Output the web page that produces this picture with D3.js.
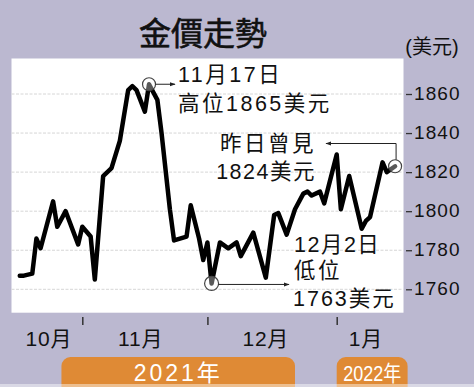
<!DOCTYPE html>
<html><head><meta charset="utf-8">
<script src="https://cdn.jsdelivr.net/npm/d3@7"></script>
<style>body{margin:0;background:#bbb8d0;} svg{display:block}</style>
</head><body>
<svg id="c" width="474" height="387"></svg>
<script>
// ---- data ----
const dates = ["2021-10-17","2021-10-18","2021-10-20","2021-10-21","2021-10-22","2021-10-25","2021-10-26","2021-10-28","2021-10-31",
"2021-11-01","2021-11-03","2021-11-04","2021-11-06","2021-11-08","2021-11-10","2021-11-12","2021-11-13","2021-11-14","2021-11-16",
"2021-11-17","2021-11-19","2021-11-20","2021-11-22","2021-11-23","2021-11-26","2021-11-27","2021-11-29","2021-11-30",
"2021-12-01","2021-12-02","2021-12-04","2021-12-06","2021-12-08","2021-12-09","2021-12-12","2021-12-15","2021-12-17","2021-12-18",
"2021-12-20","2021-12-22","2021-12-24","2021-12-25","2021-12-26","2021-12-28","2021-12-29",
"2022-01-01","2022-01-02","2022-01-04","2022-01-07","2022-01-08","2022-01-09","2022-01-12","2022-01-13","2022-01-15"];
const prices = [1767,1767,1768,1786,1781,1805,1792,1800,1783,
1792,1787,1765,1818,1822,1836,1862,1864,1862,1851,
1865,1857,1840,1801,1785,1787,1803,1786,1775,
1784,1763,1784,1781,1784,1777,1789,1766,1798,1799,
1788,1801,1809,1810,1808,1810,1804,
1829,1801,1818,1791,1795,1797,1825,1820,1823];
const yTicks = [1760,1780,1800,1820,1840,1860];
const monthTicks = ["2021-11-01","2021-12-01","2022-01-01"];
const monthLabels = ["10月","11月","12月","1月"];
const monthLabelDates = ["2021-10-24","2021-11-15","2021-12-15","2022-01-08"];
const years = ["2021年","2022年"];
const yearStart = ["2021-10-27","2022-01-01"];
const yearEnd = ["2021-12-22","2022-01-18"];
const title = "金價走勢";
const unit = "(美元)";
const highText = ["11月17日","高位1865美元"];
const lowText = ["12月2日","低位","1763美元"];
const lastText = ["昨日曾見","1824美元"];

// ---- setup ----
const svg = d3.select("#c");
const FONT = "'Liberation Sans','Noto Sans CJK TC',sans-serif";
const parse = d3.utcParse("%Y-%m-%d");
const data = dates.map((d,i)=>({date:parse(d), v:prices[i]}));
const plot = {x0:11.5, x1:403.5, y0:58.5, y1:312.7};

const x = d3.scaleUtc().domain([parse("2021-11-01"), parse("2022-01-01")]).range([82.3, 336.7]);
const y = d3.scaleLinear().domain([1760,1860]).range([289.3, 94]);

svg.append("rect").attr("width",474).attr("height",387).attr("fill","#bbb8d0");
svg.append("rect").attr("x",plot.x0).attr("y",plot.y0).attr("width",plot.x1-plot.x0).attr("height",plot.y1-plot.y0).attr("fill","#fff");

// title
svg.append("text").attr("x",203).attr("y",45).attr("text-anchor","middle")
  .attr("font-family","'Noto Sans CJK TC',sans-serif").attr("font-size",32).attr("font-weight",400).attr("fill","#111")
  .attr("stroke","#111").attr("stroke-width",0.6).text(title);
svg.append("text").attr("x",432).attr("y",54).attr("text-anchor","middle")
  .attr("font-family",FONT).attr("font-size",20).attr("fill","#111").text(unit);

// gridlines
svg.append("g").selectAll("line").data(yTicks).join("line")
  .attr("x1",plot.x0).attr("x2",plot.x1).attr("y1",d=>y(d)).attr("y2",d=>y(d))
  .attr("stroke","#d6d6d6").attr("stroke-width",1).attr("stroke-dasharray","3,1.5");

// y axis
const ya = svg.append("g").attr("transform","translate(406,0)")
  .call(d3.axisRight(y).tickValues(yTicks).tickSize(6).tickPadding(2).tickFormat(d3.format("d")));
ya.select(".domain").remove();
ya.selectAll("line").attr("stroke","#333").attr("stroke-width",1.3);
ya.selectAll("text").attr("font-family",FONT).attr("font-size",19).attr("fill","#111").attr("dy","0.28em").attr("letter-spacing",1.1);

// x axis ticks
const xa = svg.append("g").attr("transform","translate(0,317)")
  .call(d3.axisBottom(x).tickValues(monthTicks.map(parse)).tickSize(8).tickFormat(""));
xa.select(".domain").remove();
xa.selectAll("line").attr("stroke","#333").attr("stroke-width",1.5);

svg.append("g").selectAll("text").data(monthLabels).join("text")
  .attr("x",(d,i)=>x(parse(monthLabelDates[i]))).attr("y",346).attr("text-anchor","middle")
  .attr("font-family",FONT).attr("font-size",21).attr("letter-spacing",0.8).attr("fill","#111").text(d=>d);

// year boxes
const yg = svg.append("g");
years.forEach((t,i)=>{
  const a = x(parse(yearStart[i])), b = x(parse(yearEnd[i]));
  yg.append("rect").attr("x",a).attr("y",357).attr("width",b-a).attr("height",45).attr("rx",9).attr("fill","#df8a35");
  const tx = yg.append("text").attr("x",(a+b)/2).attr("y",381).attr("text-anchor","middle")
    .attr("font-family",FONT).attr("font-size",i===0?23:22).attr("fill","#fff").text(t);
  if(i===0) tx.attr("letter-spacing",3);
  else tx.attr("textLength",58).attr("lengthAdjust","spacingAndGlyphs");
});

// line
svg.append("path").datum(data).attr("fill","none").attr("stroke","#000").attr("stroke-width",4.5)
  .attr("stroke-linejoin","round").attr("stroke-linecap","round")
  .attr("d", d3.line().x(d=>x(d.date)).y(d=>y(d.v)));

// annotations
const defs = svg.append("defs");
defs.append("marker").attr("id","ah").attr("viewBox","0 0 10 10").attr("refX",9).attr("refY",5)
  .attr("markerWidth",6).attr("markerHeight",6).attr("orient","auto-start-reverse")
  .append("path").attr("d","M0,1.5L10,5L0,8.5Z").attr("fill","#222");

const hi = data[19], lo = data[29], last = data[data.length-1];
const ann = svg.append("g");
function circ(p,r){ ann.append("circle").attr("cx",x(p.date)).attr("cy",y(p.v)).attr("r",r)
  .attr("fill","rgba(255,255,255,0.35)").attr("stroke","#444").attr("stroke-width",1.2); }

// high
circ(hi,6.5);
ann.append("line").attr("x1",x(hi.date)+6.5).attr("y1",y(hi.v)).attr("x2",175).attr("y2",y(hi.v))
  .attr("stroke","#222").attr("stroke-width",1).attr("marker-end","url(#ah)");
// low
circ(lo,7);
ann.append("line").attr("x1",x(lo.date)+7).attr("y1",y(lo.v)+1).attr("x2",289).attr("y2",y(lo.v)+1)
  .attr("stroke","#222").attr("stroke-width",1).attr("marker-end","url(#ah)");
// last
circ(last,6.5);
ann.append("path").attr("d",`M${x(last.date)+1},${y(last.v)-6.5}V143.5H326`)
  .attr("fill","none").attr("stroke","#222").attr("stroke-width",1).attr("marker-end","url(#ah)");

function txt(s,xx,yy,anchor,ls){ return ann.append("text").attr("x",xx).attr("y",yy).attr("text-anchor",anchor||"start")
  .attr("font-family",FONT).attr("font-size",21.5).attr("letter-spacing",ls==null?2.5:ls).attr("fill","#111").text(s); }
txt(highText[0],178,82); txt(highText[1],178,111);
txt(lastText[0],316,151,"end"); txt(lastText[1],316,179,"end",1.5);
txt(lowText[0],294,252,"start",1.5); txt(lowText[1],294,278); txt(lowText[2],293,306,"start",2);

// bottom light strip
svg.append("rect").attr("x",0).attr("y",384).attr("width",474).attr("height",3).attr("fill","#fff").attr("opacity",0.45);
</script>
</body></html>
